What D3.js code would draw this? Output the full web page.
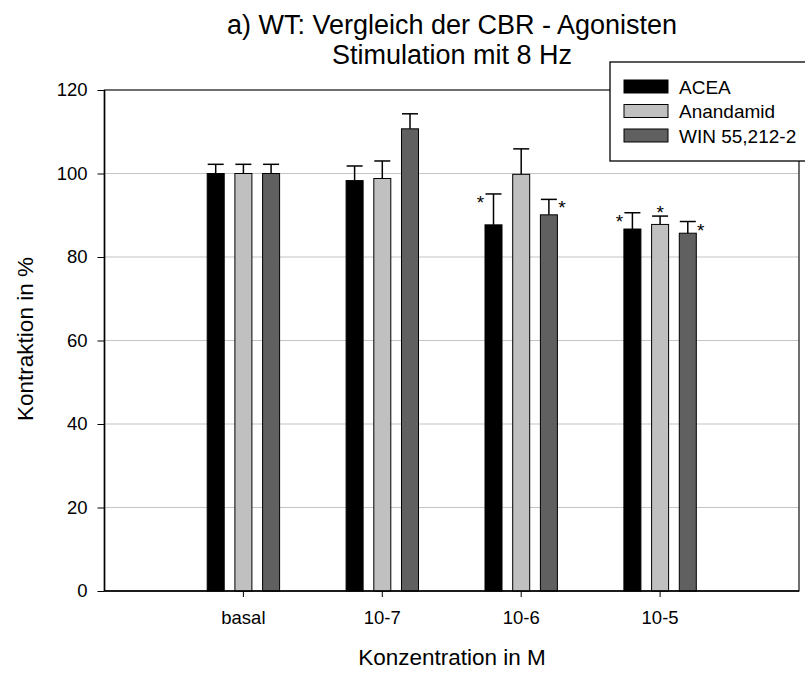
<!DOCTYPE html>
<meta charset="utf-8">
<style>
    body { margin: 0; background: #fff; }
    svg { display: block; font-family: "Liberation Sans", Arial, sans-serif; }
    .axis text { font-size: 18.5px; fill: #000; }
    .axis path, .axis line { stroke: #000; }
    .grid line { stroke: #c4c4c4; stroke-width: 1.2; }
</style>
<script src="https://d3js.org/d3.v7.min.js"></script>
<svg width="805" height="673"></svg>
<script>
    // data
    let categories = ["basal", "10-7", "10-6", "10-5"];
    let series = ["ACEA", "Anandamid", "WIN 55,212-2"];
    let acea = [100, 98.3, 87.7, 86.7];
    let aceaErr = [2.2, 3.5, 7.4, 3.9];
    let anandamid = [100, 98.8, 99.8, 87.8];
    let anandamidErr = [2.2, 4.2, 6.1, 2.0];
    let win = [100, 110.7, 90.1, 85.7];
    let winErr = [2.2, 3.6, 3.7, 2.8];
    let yTicks = [0, 20, 40, 60, 80, 100, 120];
    // significance marks: category, series, side
    let stars = [
        ["10-6", "ACEA", "left"],
        ["10-6", "WIN 55,212-2", "right"],
        ["10-5", "ACEA", "left"],
        ["10-5", "Anandamid", "top"],
        ["10-5", "WIN 55,212-2", "right"]
    ];
    let colors = ["#000000", "#c0c0c0", "#606060"];

    let svg = d3.select("svg");
    let pLeft = 104.5, pRight = 799, pTop = 90, pBottom = 591;

    let values = [acea, anandamid, win];
    let errors = [aceaErr, anandamidErr, winErr];
    let rows = [];
    series.forEach(function(s, i) {
        categories.forEach(function(c, j) {
            rows.push({cat: c, ser: s, i: i, v: values[i][j], e: errors[i][j]});
        });
    });

    let step = (pRight - pLeft) / (categories.length + 1);
    let x = d3.scaleBand().domain(categories).range([pLeft + step / 2, pRight - step / 2]);
    let xs = d3.scaleBand().domain(series).range([-36.2, 36.2]).paddingInner(0.386);
    let y = d3.scaleLinear().domain([0, 120]).range([pBottom, pTop]);
    let color = d3.scaleOrdinal().domain(series).range(colors);

    // grid
    svg.append("g").attr("class", "grid")
        .selectAll("line").data(yTicks.filter(function(d) { return d > 0 && d < 120; }))
        .enter().append("line")
        .attr("x1", pLeft).attr("x2", pRight)
        .attr("y1", function(d) { return y(d); }).attr("y2", function(d) { return y(d); });

    // frame
    svg.append("rect")
        .attr("x", pLeft).attr("y", pTop)
        .attr("width", pRight - pLeft).attr("height", pBottom - pTop)
        .attr("fill", "none").attr("stroke", "#222").attr("stroke-width", 1.3);

    // bars
    let bar = svg.append("g").selectAll("g").data(rows).enter().append("g")
        .attr("transform", function(d) { return "translate(" + (x(d.cat) + x.bandwidth() / 2 + xs(d.ser)) + ",0)"; });
    bar.append("rect")
        .attr("y", function(d) { return y(d.v); })
        .attr("width", xs.bandwidth())
        .attr("height", function(d) { return y(0) - y(d.v); })
        .attr("fill", function(d) { return color(d.ser); })
        .attr("stroke", "#000").attr("stroke-width", 1);
    bar.append("line")
        .attr("x1", xs.bandwidth() / 2).attr("x2", xs.bandwidth() / 2)
        .attr("y1", function(d) { return y(d.v); })
        .attr("y2", function(d) { return y(d.v + d.e); })
        .attr("stroke", "#000").attr("stroke-width", 1.5);
    bar.append("line")
        .attr("x1", xs.bandwidth() / 2 - 8).attr("x2", xs.bandwidth() / 2 + 8)
        .attr("y1", function(d) { return y(d.v + d.e); })
        .attr("y2", function(d) { return y(d.v + d.e); })
        .attr("stroke", "#000").attr("stroke-width", 1.5);

    // stars
    svg.append("g").selectAll("text").data(stars).enter().append("text")
        .attr("x", function(d) {
            let cx = x(d[0]) + x.bandwidth() / 2 + xs(d[1]) + xs.bandwidth() / 2;
            if (d[2] == "left") return cx - 13;
            if (d[2] == "right") return cx + 13;
            return cx;
        })
        .attr("y", function(d) {
            let r = rows.find(function(o) { return o.cat == d[0] && o.ser == d[1]; });
            let ty = y(r.v + r.e);
            return d[2] == "top" ? ty + 3 : ty + 15;
        })
        .attr("text-anchor", "middle")
        .style("font-size", "19px")
        .text("*");

    // axes
    svg.append("g").attr("class", "axis")
        .attr("transform", "translate(" + pLeft + ",0)")
        .call(d3.axisLeft(y).tickValues(yTicks).tickSize(7).tickPadding(10))
        .call(function(g) { g.select(".domain").remove(); });
    svg.append("line").attr("x1", pLeft).attr("x2", pLeft).attr("y1", pTop).attr("y2", pBottom)
        .attr("stroke", "#000").attr("stroke-width", 1.5);
    svg.append("g").attr("class", "axis")
        .attr("transform", "translate(0," + pBottom + ")")
        .call(d3.axisBottom(x).tickSize(6).tickPadding(14))
        .call(function(g) { g.select(".domain").remove(); });
    svg.append("line").attr("x1", pLeft).attr("x2", pRight).attr("y1", pBottom).attr("y2", pBottom)
        .attr("stroke", "#000").attr("stroke-width", 1.5);

    // titles
    svg.append("text").attr("x", 452).attr("y", 34).attr("text-anchor", "middle")
        .style("font-size", "27px").text("a) WT: Vergleich der CBR - Agonisten");
    svg.append("text").attr("x", 452).attr("y", 64).attr("text-anchor", "middle")
        .style("font-size", "27px").text("Stimulation mit 8 Hz");
    svg.append("text").attr("transform", "translate(33,339) rotate(-90)")
        .attr("text-anchor", "middle").style("font-size", "22.5px").text("Kontraktion in %");
    svg.append("text").attr("x", 452).attr("y", 665).attr("text-anchor", "middle")
        .style("font-size", "22.5px").text("Konzentration in M");

    // legend
    let legend = svg.append("g").attr("transform", "translate(610,62)");
    legend.append("rect").attr("width", 200).attr("height", 99)
        .attr("fill", "#fff").attr("stroke", "#000").attr("stroke-width", 1.3);
    let item = legend.selectAll("g.item").data(series).enter().append("g")
        .attr("transform", function(d, i) { return "translate(14," + (18 + i * 24.5) + ")"; });
    item.append("rect").attr("width", 44).attr("height", 13)
        .attr("fill", function(d) { return color(d); })
        .attr("stroke", "#000").attr("stroke-width", 1);
    item.append("text").attr("x", 55).attr("y", 13.5)
        .style("font-size", "19px").text(function(d) { return d; });
</script>
